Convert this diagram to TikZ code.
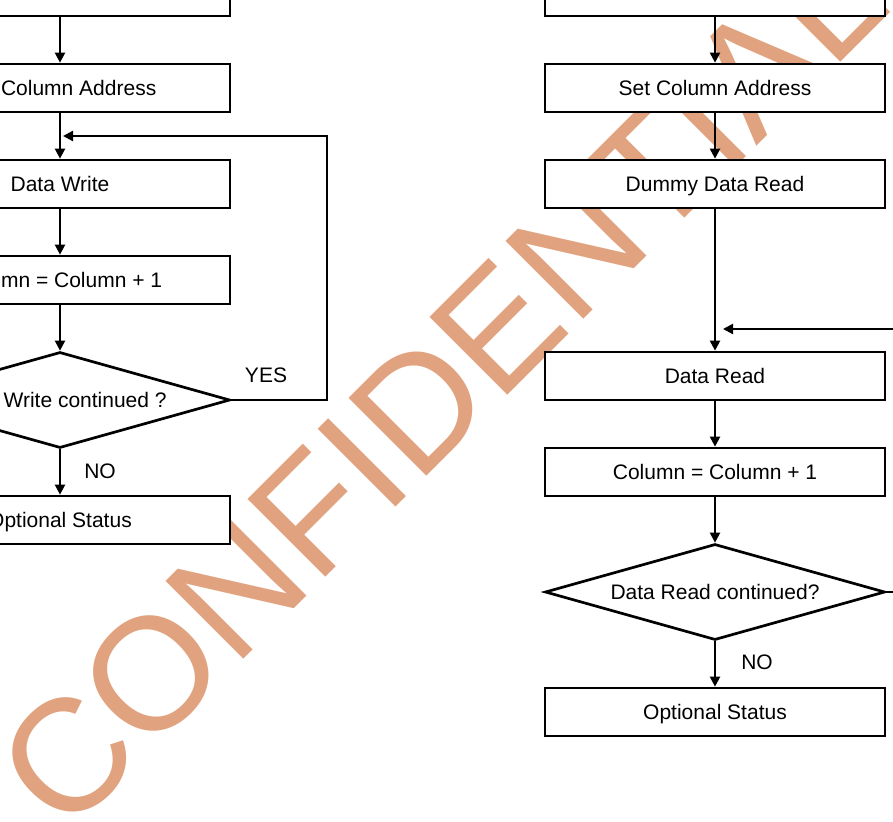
\documentclass[tikz,border=0pt]{standalone}
\usepackage{fontspec, tikz, xcolor}
\setmainfont{Liberation Sans}
\usetikzlibrary{arrows.meta, shapes.geometric}
\definecolor{wmorange}{RGB}{225,163,127}

\begin{document}
\begin{tikzpicture}[x=1pt, y=-1pt,
    stepbox/.style={draw, line width=2.7pt, fill=white, minimum width=340pt, minimum height=48pt, inner sep=0pt, text height=15pt, text depth=0pt, font=\fontsize{21}{25}\selectfont},
    choice/.style={diamond, aspect=3.54, draw, line width=2.7pt, fill=white, minimum width=340pt, minimum height=96pt, inner sep=0pt, text height=15pt, text depth=0pt, font=\fontsize{21}{25}\selectfont},
    flow/.style={line width=2.1pt, -{Triangle[length=10pt, width=10pt]}},
    tag/.style={anchor=base, font=\fontsize{21}{25}\selectfont},
    stamp/.style={anchor=base west, rotate=45, inner sep=0pt, text=wmorange, font=\fontsize{160}{192}\selectfont}]
    \useasboundingbox (0,0) rectangle (893,821);
    \clip (0,0) rectangle (893,821);
    \node[stamp] (mark) at (65,838) {CONFIDENTIAL};

    \node[stepbox] (wtop) at (60,-8) {};
    \node[stepbox] (wcol) at (60,88) {Set Column Address};
    \node[stepbox] (wdata) at (60,184) {Data Write};
    \node[stepbox] (winc) at (60,280) {Column = Column + 1};
    \node[choice] (wdec) at (60,400) {Data Write continued ?};
    \node[stepbox] (wopt) at (60,520) {Optional Status};

    \node[stepbox] (rtop) at (715,-8) {};
    \node[stepbox] (rcol) at (715,88) {Set Column Address};
    \node[stepbox] (rdummy) at (715,184) {Dummy Data Read};
    \node[stepbox] (rdata) at (715,376) {Data Read};
    \node[stepbox] (rinc) at (715,472) {Column = Column + 1};
    \node[choice] (rdec) at (715,592) {Data Read continued?};
    \node[stepbox] (ropt) at (715,712) {Optional Status};

    \node[tag] (wyes) at (266,382) {YES};
    \node[tag] (wno) at (100,478) {NO};
    \node[tag] (rno) at (757,669) {NO};

    \coordinate (wback) at (327,136);
    \coordinate (wjoin) at (63,136);
    \coordinate (rback) at (960,329);
    \coordinate (rjoin) at (723,329);

    \draw[flow] (wtop) -- (wcol);
    \draw[flow] (wcol) -- (wdata);
    \draw[flow] (wdata) -- (winc);
    \draw[flow] (winc) -- (wdec);
    \draw[flow] (wdec) -- (wopt);
    \draw[flow] (wdec.east) -| (wback) -- (wjoin);

    \draw[flow] (rtop) -- (rcol);
    \draw[flow] (rcol) -- (rdummy);
    \draw[flow] (rdummy) -- (rdata);
    \draw[flow] (rdata) -- (rinc);
    \draw[flow] (rinc) -- (rdec);
    \draw[flow] (rdec) -- (ropt);
    \draw[flow] (rdec.east) -| (rback) -- (rjoin);
\end{tikzpicture}
\end{document}
